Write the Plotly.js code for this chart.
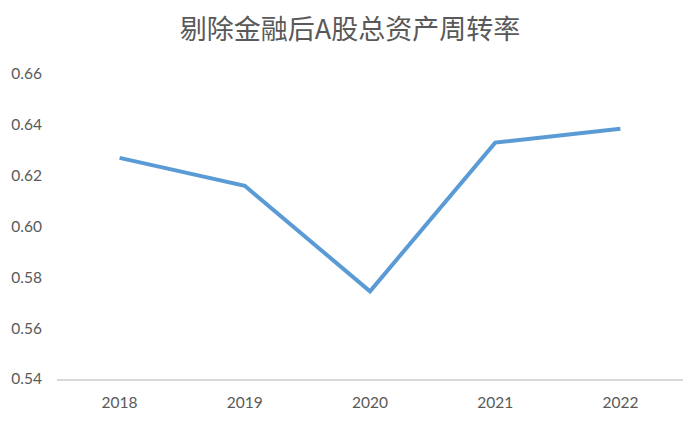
<!DOCTYPE html>
<html>
<head>
<meta charset="utf-8">
<script src="https://cdn.plot.ly/plotly-3.0.1.min.js"></script>
<style>html,body{margin:0;padding:0;background:#fff;}#chart{width:700px;height:422px;}</style>
</head>
<body>
<div id="chart"></div>
<script>
const years = ["2018", "2019", "2020", "2021", "2022"];
const turnover = [0.627, 0.616, 0.5745, 0.633, 0.6385];
const yTicks = [0.54, 0.56, 0.58, 0.60, 0.62, 0.64, 0.66];
const yTickText = ["0.54", "0.56", "0.58", "0.60", "0.62", "0.64", "0.66"];
const chartTitle = "剔除金融后A股总资产周转率";

const trace = {
  x: years,
  y: turnover,
  type: "scatter",
  mode: "lines",
  line: {color: "#5B9BD5", width: 4},
  hoverinfo: "skip"
};

const layout = {
  width: 700,
  height: 422,
  margin: {l: 57, r: 17, t: 74, b: 43},
  paper_bgcolor: "#ffffff",
  plot_bgcolor: "#ffffff",
  showlegend: false,
  title: {
    text: chartTitle,
    font: {family: "Noto Sans CJK SC, sans-serif", size: 27, color: "#595959"},
    x: 0.5, xanchor: "center",
    y: 0.93, yanchor: "middle"
  },
  xaxis: {
    type: "category",
    range: [-0.5, 4.5],
    showgrid: false,
    zeroline: false,
    showline: true,
    linecolor: "#D9D9D9",
    linewidth: 1.5,
    ticks: "",
    ticklabelstandoff: 9,
    tickfont: {family: "Lato, Open Sans, sans-serif", size: 15.5, color: "#595959"}
  },
  yaxis: {
    range: [0.54, 0.66],
    tickvals: yTicks,
    ticktext: yTickText,
    showgrid: false,
    zeroline: false,
    showline: false,
    ticks: "",
    ticklabelstandoff: 14,
    tickfont: {family: "Lato, Open Sans, sans-serif", size: 15.5, color: "#595959"}
  }
};

Plotly.newPlot("chart", [trace], layout, {displayModeBar: false, staticPlot: true});
</script>
</body>
</html>
